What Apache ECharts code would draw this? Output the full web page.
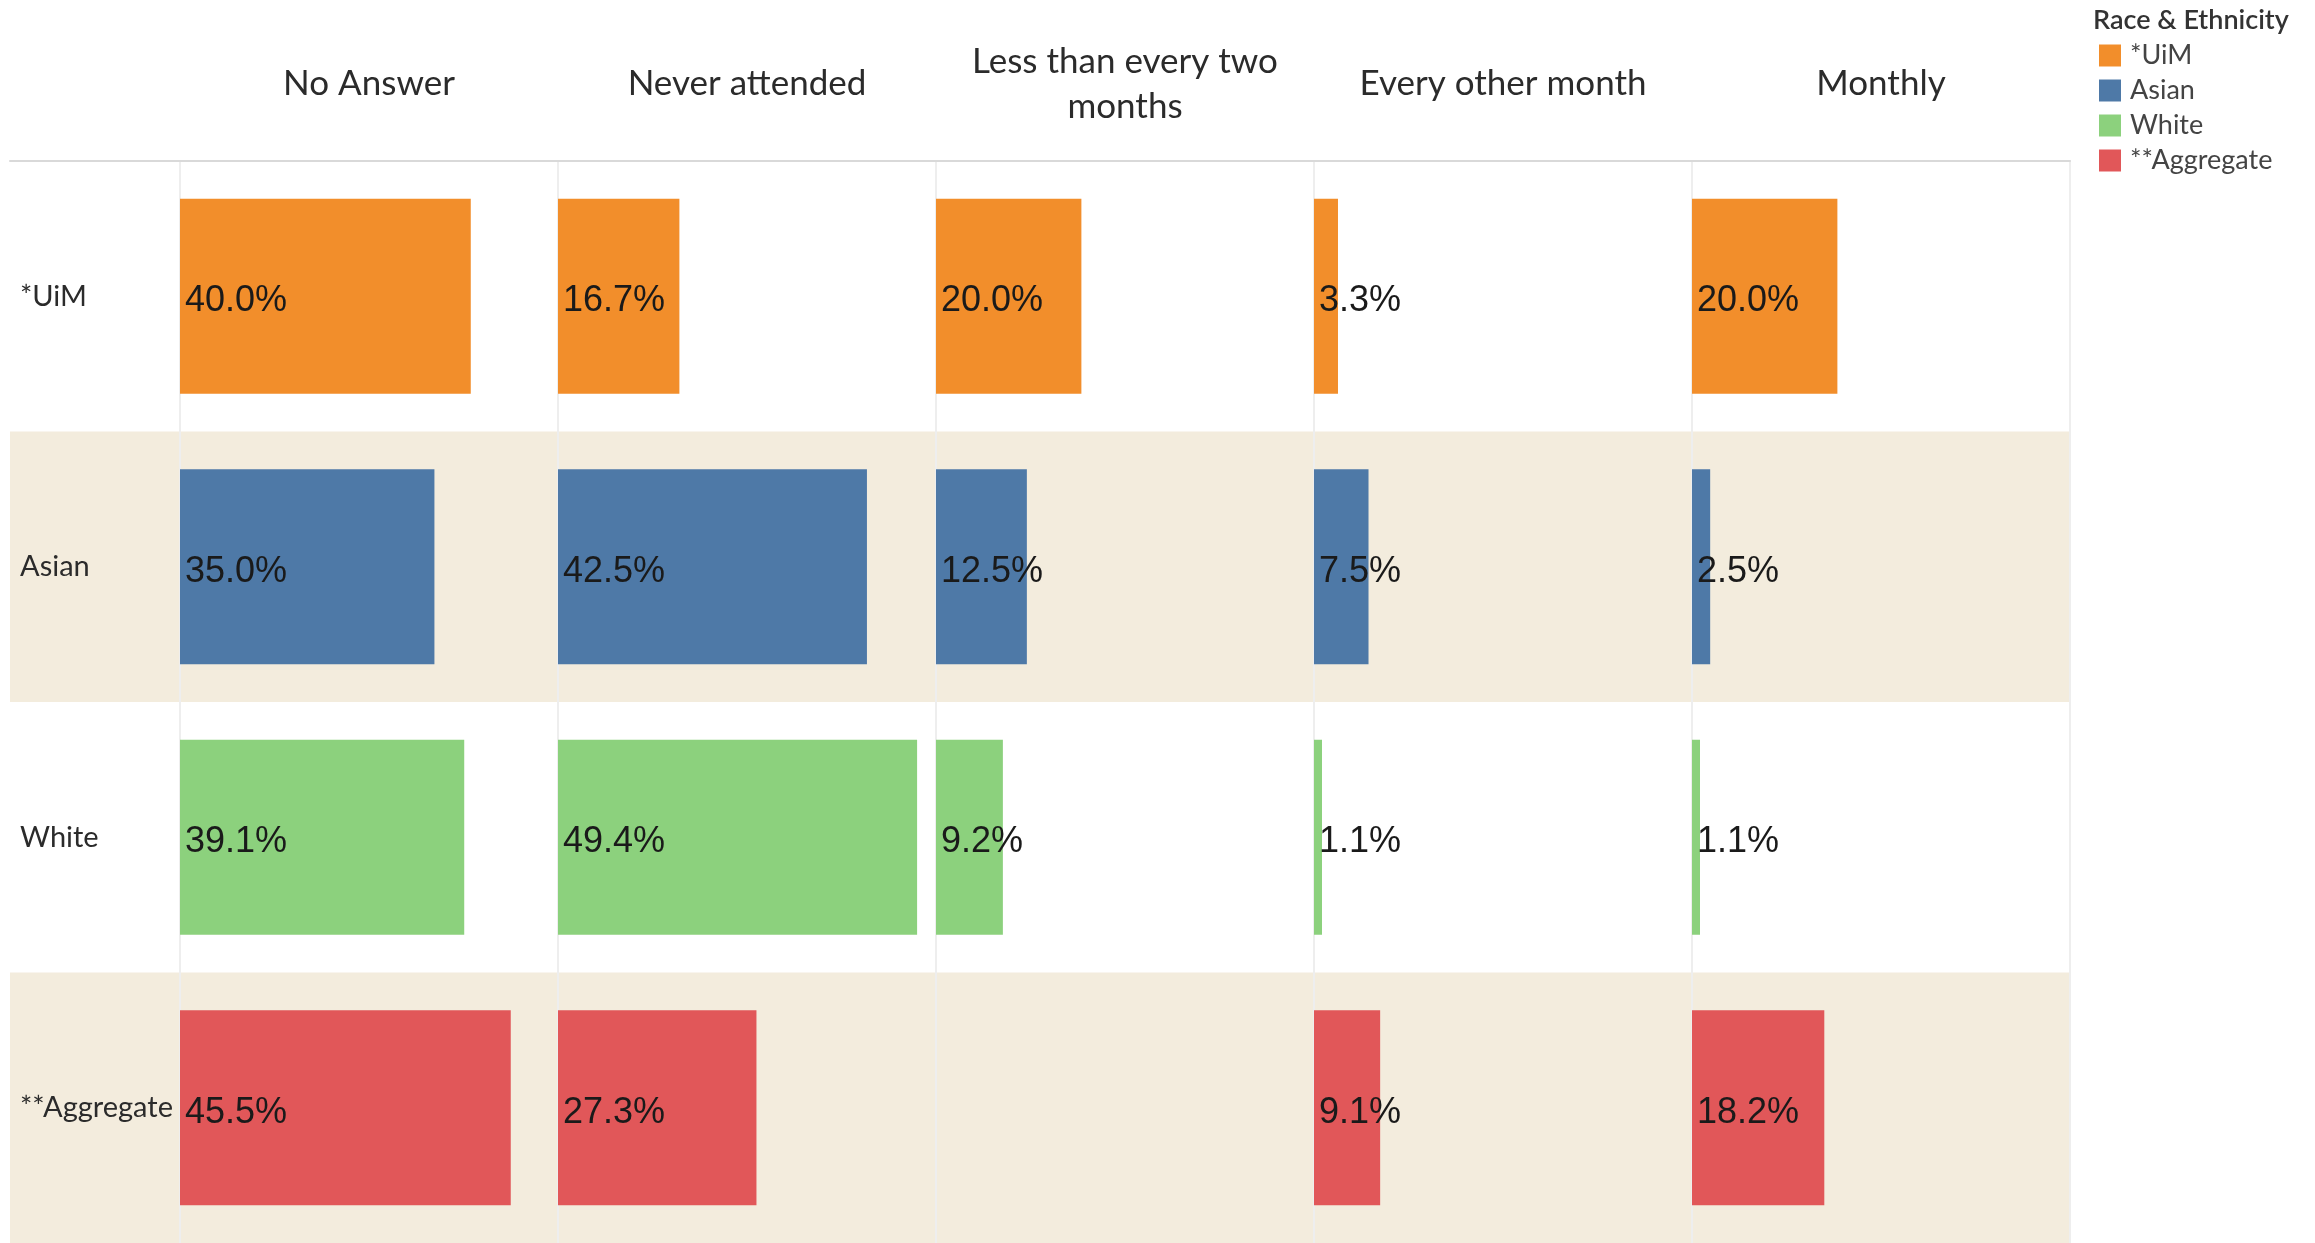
<!DOCTYPE html>
<html>
<head>
<meta charset="utf-8">
<title>Attendance by Race & Ethnicity</title>
<script src="https://cdn.jsdelivr.net/npm/echarts@6/dist/echarts.min.js"></script>
<style>
  html, body { margin: 0; padding: 0; background: #fff; }
  #chart { width: 2315px; height: 1243px; }
</style>
</head>
<body>
<div id="chart"></div>
<script>
// row categories (top to bottom)
const groups = ['*UiM', 'Asian', 'White', '**Aggregate'];
// column headers
const answers = ['No Answer', 'Never attended', 'Less than every two\nmonths', 'Every other month', 'Monthly'];
// percent per answer column, one array per group
const uimValues = [40.0, 16.7, 20.0, 3.3, 20.0];
const asianValues = [35.0, 42.5, 12.5, 7.5, 2.5];
const whiteValues = [39.1, 49.4, 9.2, 1.1, 1.1];
const aggregateValues = [45.5, 27.3, null, 9.1, 18.2];
const groupColors = ['#f28e2b', '#4e79a7', '#8cd17d', '#e15759'];

const valuesByGroup = [uimValues, asianValues, whiteValues, aggregateValues];

const chart = echarts.init(document.getElementById('chart'));

const panelLeft = 10;
const panelTop = 161;
const colLeft = 180;
const colWidth = 378;
const font = 'Lato, "Open Sans", sans-serif';

const grids = [];
const xAxes = [];
const yAxes = [];
const series = [];

// background grid: row bands, row labels, header rule
grids.push({ left: panelLeft, top: panelTop, width: colLeft + colWidth * 5 - panelLeft, bottom: 0 });
xAxes.push({
  gridIndex: 0, type: 'value', min: 0, max: 1, position: 'top',
  axisLine: { show: true, onZero: false, lineStyle: { color: '#d9d9d9', width: 2 } },
  axisTick: { show: false }, axisLabel: { show: false }, splitLine: { show: false }
});
yAxes.push({
  gridIndex: 0, type: 'category', data: groups, inverse: true,
  axisLine: { show: false }, axisTick: { show: false },
  axisLabel: { inside: true, margin: 10, fontSize: 29, color: '#2b2b2b', fontFamily: font, padding: [10, 0, 0, 0] },
  splitArea: { show: true, areaStyle: { color: ['#ffffff', '#f3ecdd'] } }
});
// faint right border of the panel
yAxes.push({
  gridIndex: 0, type: 'category', data: groups, inverse: true, position: 'right',
  axisLine: { show: true, lineStyle: { color: '#eeeeee', width: 2 } },
  axisTick: { show: false }, axisLabel: { show: false }
});

// one grid per answer column
answers.forEach((answer, i) => {
  const gi = i + 1;
  grids.push({ left: colLeft + colWidth * i, top: panelTop, width: colWidth, bottom: 0 });
  xAxes.push({
    gridIndex: gi, type: 'value', min: 0, max: 52, position: 'top',
    name: answer, nameLocation: 'middle', nameGap: 77,
    nameTextStyle: { fontSize: 35, color: '#2b2b2b', fontFamily: font, verticalAlign: 'middle', lineHeight: 45 },
    axisLine: { show: false }, axisTick: { show: false },
    axisLabel: { show: false }, splitLine: { show: false }
  });
  yAxes.push({
    gridIndex: gi, type: 'category', data: groups, inverse: true,
    axisLine: { show: true, lineStyle: { color: '#eeeeee', width: 2 } },
    axisTick: { show: false }, axisLabel: { show: false }
  });
  groups.forEach((g, r) => {
    const v = valuesByGroup[r][i];
    series.push({
      name: g,
      type: 'bar',
      xAxisIndex: gi,
      yAxisIndex: gi + 1,
      stack: 'col' + i,
      barWidth: '72%',
      itemStyle: { color: groupColors[r] },
      label: {
        show: true, position: 'insideLeft', distance: 5, offset: [0, 5],
        fontSize: 36, color: '#1a1a1a', fontFamily: '"Liberation Sans", Arial, sans-serif',
        formatter: p => p.value.toFixed(1) + '%'
      },
      data: groups.map((_, k) => (k === r && v != null ? v : '-'))
    });
  });
});

chart.setOption({
  animation: false,
  title: {
    text: 'Race & Ethnicity', left: 2093, top: 7, padding: 0,
    textStyle: { fontSize: 27, fontWeight: 600, color: '#333', fontFamily: font }
  },
  legend: {
    data: groups, orient: 'vertical', left: 2099, top: 42,
    icon: 'rect', itemWidth: 22, itemHeight: 22, itemGap: 8, padding: 0,
    textStyle: { fontSize: 27, color: '#444', fontFamily: font, padding: [0, 0, 0, 4] }
  },
  grid: grids,
  xAxis: xAxes,
  yAxis: yAxes,
  series: series
});
</script>
</body>
</html>
